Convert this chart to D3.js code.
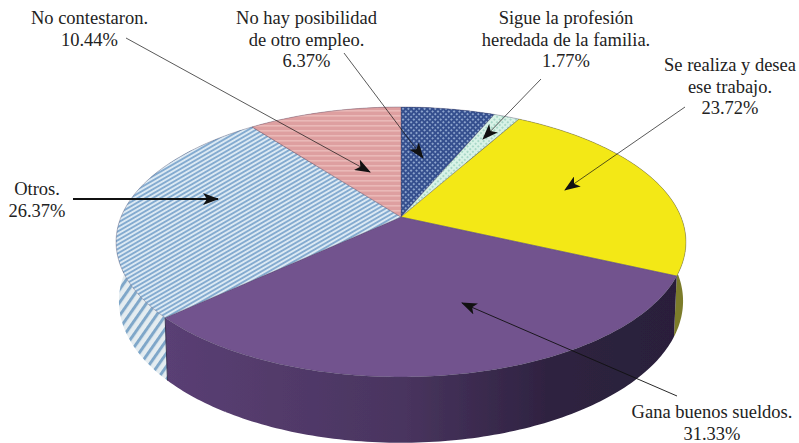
<!DOCTYPE html>
<html>
<head>
<meta charset="utf-8">
<script src="https://cdnjs.cloudflare.com/ajax/libs/d3/7.8.5/d3.min.js"></script>
<style>
  html, body { margin: 0; background: #fff; }
  svg { display: block; }
  text { font-family: "Liberation Serif", serif; font-size: 18.5px; fill: #222; }
</style>
</head>
<body>
<svg id="chart" width="799" height="443"></svg>
<script>
// Pie of reasons for staying in the job, values as printed on the labels
const CATEGORIES = ["No hay", "Sigue", "Se realiza", "Gana", "Otros", "No contestaron"];
const VALUES = [6.37, 1.77, 23.72, 31.33, 26.37, 10.44];

const W = 799, H = 443;

// ── Tilted disc ───────────────────────────────────────────────
// The pie is a circle seen in perspective, so the apex sits above the
// middle of the ellipse. PERSP is the depth term of the projection.
const CX = 401, CY = 217, RX = 280, PERSP = -0.185, TILT = 90.2;
const BOTTOM_SCALE = 0.99, BOTTOM_YSCALE = 1.05, BOTTOM_YSHIFT = 47;

function project(angle, lower) {
  const u = Math.sin(angle), v = -Math.cos(angle);
  const w = 1 + PERSP * v;
  const x = RX * u / w, y = (TILT * v + CY) / w;
  return lower
    ? [CX + x * BOTTOM_SCALE, y * BOTTOM_YSCALE + BOTTOM_YSHIFT]
    : [CX + x, y];
}

const arcPts = (a0, a1, lower) => {
  const n = Math.max(2, Math.ceil((a1 - a0) * 60));
  return d3.range(n + 1).map(i => project(a0 + (a1 - a0) * i / n, lower));
};

const svg = d3.select("#chart");
const defs = svg.append("defs");

// soft edges, the reference is a scanned print
defs.append("filter").attr("id", "soft")
  .attr("x", "-5%").attr("y", "-5%").attr("width", "110%").attr("height", "110%")
  .append("feGaussianBlur").attr("stdDeviation", 0.35);

// ── Fills ─────────────────────────────────────────────────────
function stripes(id, size, angle, bg, fg, width) {
  const p = defs.append("pattern").attr("id", id)
    .attr("patternUnits", "userSpaceOnUse")
    .attr("width", size).attr("height", size)
    .attr("patternTransform", `rotate(${angle})`);
  p.append("rect").attr("width", size).attr("height", size).attr("fill", bg);
  p.append("rect").attr("width", size).attr("height", width).attr("fill", fg);
}

stripes("otros-top", 3.8, -30, "#dce9f3", "#84abd0", 1.9);
stripes("otros-side", 7.5, -55, "#e4ecf0", "#7fa7c9", 3);
stripes("pink-top", 5, 0, "#de9fa0", "#eab9b8", 1.6);

const dots = (id, bg, fg) => {
  const p = defs.append("pattern").attr("id", id)
    .attr("patternUnits", "userSpaceOnUse")
    .attr("width", 3.8).attr("height", 3.8)
    .attr("patternTransform", "rotate(45)");
  p.append("rect").attr("width", 3.8).attr("height", 3.8).attr("fill", bg);
  p.append("rect").attr("width", 1.9).attr("height", 1.9).attr("fill", fg);
};
dots("navy-top", "#344f8e", "#8ca3cc");
dots("green-top", "#d8f2e6", "#a8d8c8");

const wallGrad = defs.append("linearGradient").attr("id", "purple-side")
  .attr("gradientUnits", "userSpaceOnUse")
  .attr("x1", 165).attr("x2", 680).attr("y1", 0).attr("y2", 0);
[[0, "#5a3f74"], [0.45, "#4a3560"], [0.75, "#2e2240"], [1, "#2a1f3a"]].forEach(s =>
  wallGrad.append("stop").attr("offset", s[0]).attr("stop-color", s[1]));

const TOP_FILLS = ["url(#navy-top)", "url(#green-top)", "#f3e817", "#72528e", "url(#otros-top)", "url(#pink-top)"];
const SIDE_FILLS = ["#3f5b97", "#a9c9c0", "#7c7c2c", "url(#purple-side)", "url(#otros-side)", "#c98a8a"];

const slices = d3.pie().sort(null)(VALUES);
const pieG = svg.append("g").attr("filter", "url(#soft)");

// ── Side walls ────────────────────────────────────────────────
// One path per slice made of thin quads so the silhouette stays closed
pieG.append("g").selectAll("path").data(slices).join("path")
  .attr("fill", (d, i) => SIDE_FILLS[i])
  .attr("d", d => {
    const top = arcPts(d.startAngle, d.endAngle, false);
    const low = arcPts(d.startAngle, d.endAngle, true);
    return d3.range(top.length - 1).map(i =>
      `M${top[i]}L${top[i + 1]}L${low[i + 1]}L${low[i]}Z`).join("");
  });

// ── Edges on the wall ─────────────────────────────────────────
pieG.append("g").selectAll("line")
  .data(slices.filter((d, i) => CATEGORIES[i] === "Gana"))
  .join("line")
  .each(function(d) {
    const a = project(d.endAngle, false), b = project(d.endAngle, true);
    d3.select(this).attr("x1", a[0]).attr("y1", a[1]).attr("x2", b[0]).attr("y2", b[1]);
  })
  .attr("stroke", "#3a3050").attr("stroke-width", 1);

// ── Top faces ─────────────────────────────────────────────────
const line = d3.line();
pieG.append("g").selectAll("path").data(slices).join("path")
  .attr("fill", (d, i) => TOP_FILLS[i])
  .attr("stroke", "#4a4560")
  .attr("stroke-opacity", 0.5)
  .attr("stroke-width", 0.7)
  .attr("stroke-linejoin", "round")
  .attr("d", d => line([[CX, CY], ...arcPts(d.startAngle, d.endAngle, false)]) + "Z");

// ── Arrows ────────────────────────────────────────────────────
defs.append("marker").attr("id", "head")
  .attr("markerUnits", "userSpaceOnUse")
  .attr("viewBox", "0 0 16 12").attr("refX", 15).attr("refY", 6)
  .attr("markerWidth", 16).attr("markerHeight", 12).attr("orient", "auto")
  .append("path").attr("d", "M0,0L16,6L0,12L4,6Z").attr("fill", "#111");

const ARROWS = [
  { from: [126, 38],  to: [370, 172], w: 0.7 },
  { from: [344, 53],  to: [423, 158], w: 0.7 },
  { from: [541, 79],  to: [483, 139], w: 0.7 },
  { from: [685, 107], to: [565, 190], w: 0.7 },
  { from: [73, 199],  to: [218, 199], w: 2 },
  { from: [677, 396], to: [462, 303], w: 0.9 },
];

svg.append("g").selectAll("line").data(ARROWS).join("line")
  .attr("x1", d => d.from[0]).attr("y1", d => d.from[1])
  .attr("x2", d => d.to[0]).attr("y2", d => d.to[1])
  .attr("stroke", "#111").attr("stroke-width", d => d.w)
  .attr("marker-end", "url(#head)");

// ── Labels ────────────────────────────────────────────────────
const LABELS = [
  { x: 89.5, y: 24,  lines: ["No contestaron.", "10.44%"] },
  { x: 306.5, y: 24, lines: ["No hay posibilidad", "de otro empleo.", "6.37%"] },
  { x: 566, y: 24,   lines: ["Sigue la profesión", "heredada de la familia.", "1.77%"] },
  { x: 730, y: 71,   lines: ["Se realiza y desea", "ese trabajo.", "23.72%"] },
  { x: 37,  y: 195,  lines: ["Otros.", "26.37%"] },
  { x: 712, y: 418,  lines: ["Gana buenos sueldos.", "31.33%"] },
];

const labelSel = svg.append("g").selectAll("text").data(LABELS).join("text")
  .attr("text-anchor", "middle")
  .attr("y", d => d.y);
labelSel.selectAll("tspan").data(d => d.lines.map(t => ({ t, x: d.x }))).join("tspan")
  .attr("x", d => d.x)
  .attr("dy", (d, i) => i ? 21.5 : 0)
  .text(d => d.t);
</script>
</body>
</html>
